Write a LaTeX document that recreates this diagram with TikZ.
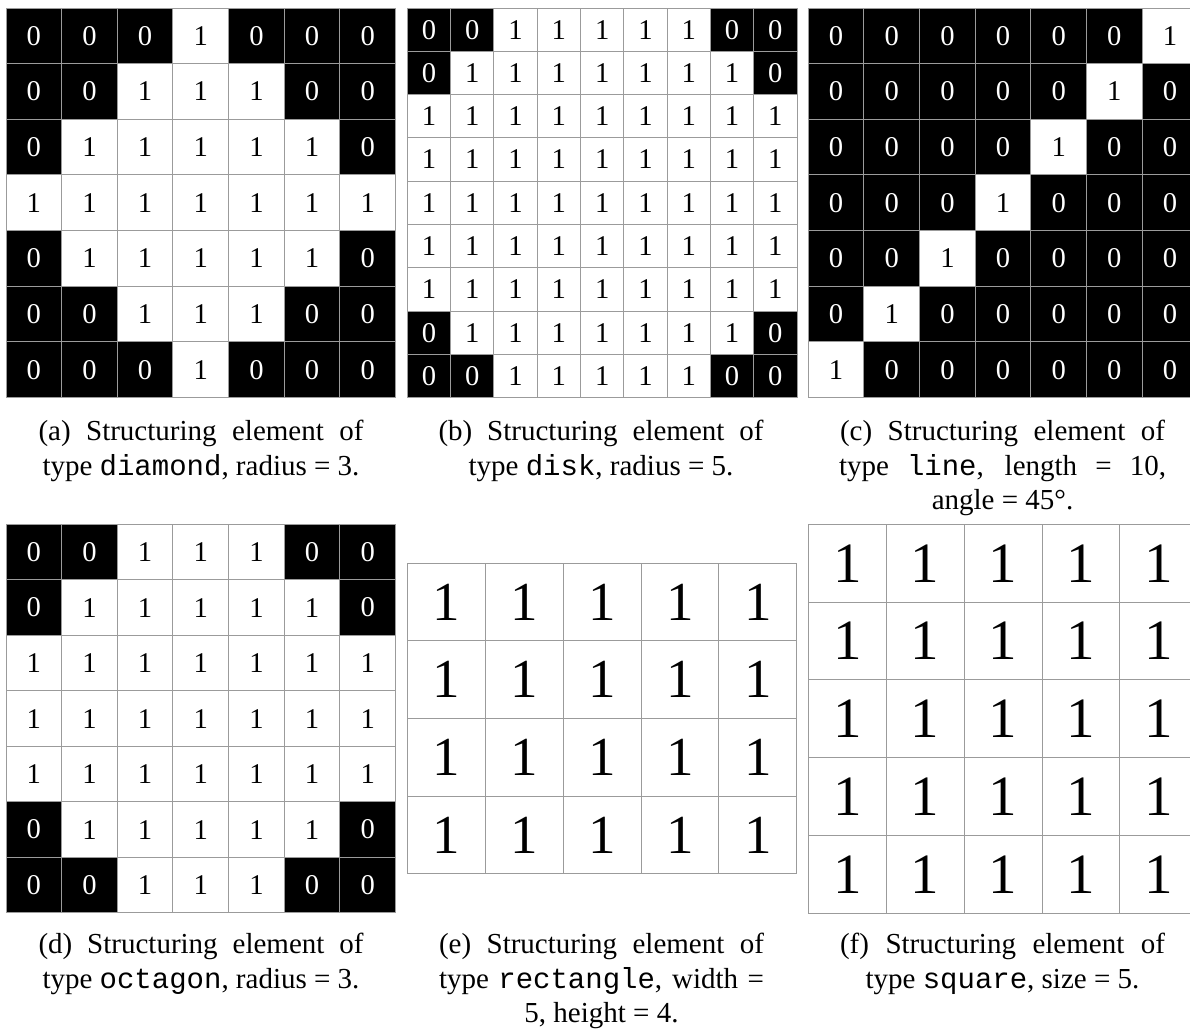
\documentclass[tikz,border=0pt]{standalone}
\usepackage{fontspec}
\setmainfont{Liberation Serif}
\setmonofont{Liberation Mono}
\usepackage{tikz}
\usetikzlibrary{positioning}
\definecolor{GridLine}{HTML}{9B9B9B}

\begin{document}
\begin{tikzpicture}[x=1pt,y=1pt,
  cell/.style={draw=GridLine,line width=1pt,inner sep=0pt,font=\fontsize{28.6}{28.6}\selectfont},
  bigcell/.style={cell,font=\fontsize{55}{55}\selectfont},
  v0/.style={fill=black,text=white},
  v1/.style={fill=white,text=black},
  capline/.style={anchor=base,inner sep=0pt,font=\fontsize{29}{34.6}\selectfont}]
  \useasboundingbox (0,0) rectangle (1190,-1034);
  \clip (0,0) rectangle (1190,-1034);

  % (a) diamond
  \foreach \row [count=\r] in {{0,0,0,1,0,0,0},{0,0,1,1,1,0,0},{0,1,1,1,1,1,0},{1,1,1,1,1,1,1},{0,1,1,1,1,1,0},{0,0,1,1,1,0,0},{0,0,0,1,0,0,0}}
    \foreach \v [count=\c] in \row
      \node[cell,v\v,minimum size=55.65pt] (a-\r-\c) at ({6+(\c-0.5)*55.65},{-8-(\r-0.5)*55.65}) {\v};
  \node[capline] (capa1) at (201,-440.5) {\makebox[325pt][s]{(a) Structuring element of}};
  \node[capline] (capa2) at (201,-475) {type \texttt{diamond}, radius = 3.};

  % (b) disk
  \foreach \row [count=\r] in {{0,0,1,1,1,1,1,0,0},{0,1,1,1,1,1,1,1,0},{1,1,1,1,1,1,1,1,1},{1,1,1,1,1,1,1,1,1},{1,1,1,1,1,1,1,1,1},{1,1,1,1,1,1,1,1,1},{1,1,1,1,1,1,1,1,1},{0,1,1,1,1,1,1,1,0},{0,0,1,1,1,1,1,0,0}}
    \foreach \v [count=\c] in \row
      \node[cell,v\v,minimum size=43.3pt] (b-\r-\c) at ({407.3+(\c-0.5)*43.3},{-8-(\r-0.5)*43.3}) {\v};
  \node[capline] (capb1) at (601,-440.5) {\makebox[325pt][s]{(b) Structuring element of}};
  \node[capline] (capb2) at (601,-475) {type \texttt{disk}, radius = 5.};

  % (c) line
  \foreach \row [count=\r] in {{0,0,0,0,0,0,1},{0,0,0,0,0,1,0},{0,0,0,0,1,0,0},{0,0,0,1,0,0,0},{0,0,1,0,0,0,0},{0,1,0,0,0,0,0},{1,0,0,0,0,0,0}}
    \foreach \v [count=\c] in \row
      \node[cell,v\v,minimum size=55.65pt] (c-\r-\c) at ({808.3+(\c-0.5)*55.65},{-8-(\r-0.5)*55.65}) {\v};
  \node[capline] (capc1) at (1002.5,-440.5) {\makebox[325pt][s]{(c) Structuring element of}};
  \node[capline] (capc2) at (1002.5,-475) {\makebox[327pt][s]{type \texttt{line}, length = 10,}};
  \node[capline] (capc3) at (1002.5,-509.5) {angle = 45°.};

  % (d) octagon
  \foreach \row [count=\r] in {{0,0,1,1,1,0,0},{0,1,1,1,1,1,0},{1,1,1,1,1,1,1},{1,1,1,1,1,1,1},{1,1,1,1,1,1,1},{0,1,1,1,1,1,0},{0,0,1,1,1,0,0}}
    \foreach \v [count=\c] in \row
      \node[cell,v\v,minimum width=55.65pt,minimum height=55.5pt] (d-\r-\c) at ({6+(\c-0.5)*55.65},{-524.3-(\r-0.5)*55.5}) {\v};
  \node[capline] (capd1) at (201,-953.3) {\makebox[325pt][s]{(d) Structuring element of}};
  \node[capline] (capd2) at (201,-988) {type \texttt{octagon}, radius = 3.};

  % (e) rectangle
  \foreach \r in {1,...,4}
    \foreach \c in {1,...,5}
      \node[bigcell,v1,minimum width=77.9pt,minimum height=77.6pt] (e-\r-\c) at ({407.3+(\c-0.5)*77.9},{-563.3-(\r-0.5)*77.6}) {1};
  \node[capline] (cape1) at (601.5,-953.3) {\makebox[325pt][s]{(e) Structuring element of}};
  \node[capline] (cape2) at (601.5,-988) {\makebox[325pt][s]{type \texttt{rectangle}, width =}};
  \node[capline] (cape3) at (601.5,-1022.7) {5, height = 4.};

  % (f) square
  \foreach \r in {1,...,5}
    \foreach \c in {1,...,5}
      \node[bigcell,v1,minimum width=77.9pt,minimum height=77.8pt,font=\fontsize{57}{57}\selectfont] (f-\r-\c) at ({808.3+(\c-0.5)*77.9},{-524.3-(\r-0.5)*77.8}) {1};
  \node[capline] (capf1) at (1002.5,-953.3) {\makebox[325pt][s]{(f) Structuring element of}};
  \node[capline] (capf2) at (1002.5,-988) {type \texttt{square}, size = 5.};
\end{tikzpicture}
\end{document}
